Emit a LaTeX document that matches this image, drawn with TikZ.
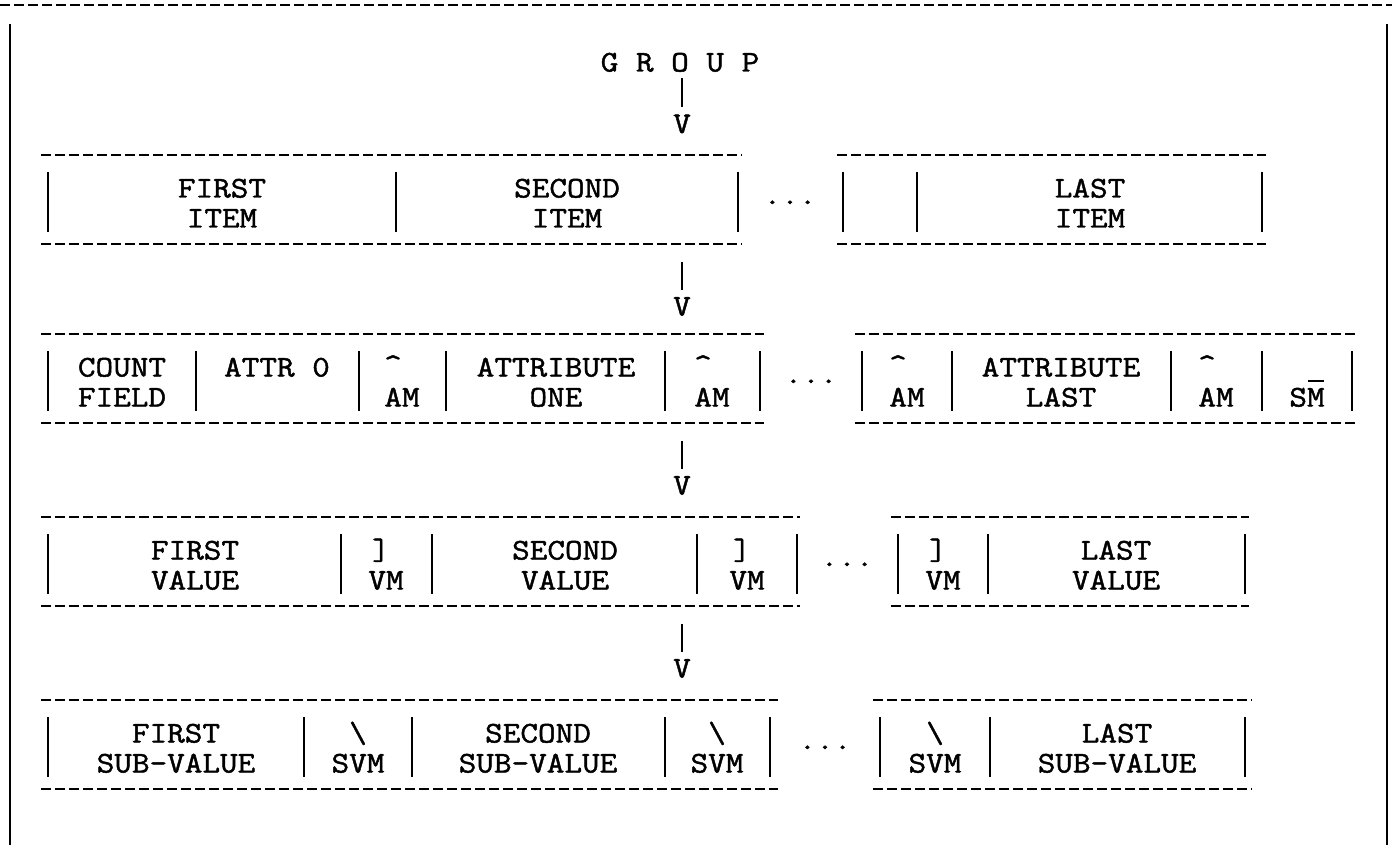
\documentclass[tikz,border=0pt]{standalone}
\usepackage{fontspec}
\newfontfamily\typew[FakeStretch=1.14,FakeBold=1.5]{Latin Modern Mono}
\begin{document}
\begin{tikzpicture}[x=1pt,y=-1pt,
  txt/.style={font=\typew\fontsize{30}{30}\selectfont, inner sep=0pt, anchor=base},
  dashrule/.style={line width=1.6pt, dash pattern=on 10pt off 4pt},
  bar/.style={line width=1.8pt},
  link/.style={line width=1.8pt}]
\useasboundingbox (0,0) rectangle (1392,845);
% frame
\draw[dashrule] (0,5) -- (1392,5);
\draw[bar] (10,24) -- (10,845);
\draw[bar] (1387,24) -- (1387,845);
% group
\node[txt] (group) at (680,71.5) {G R O U P};
\node[txt] (v1) at (682,133) {V};
\coordinate (a1) at (682,78); \coordinate (b1) at (682,107);
\draw[link] (a1) -- (b1);
% row 1
\foreach \y in {155,244} {\draw[dashrule] (41,\y) -- (742,\y); \draw[dashrule] (837,\y) -- (1266,\y);}
\foreach \x in {48,396,738,843,917,1262} \draw[bar] (\x,172) -- (\x,232);
\node[txt] (r1a) at (222,197.5) {FIRST};
\node[txt] (r1b) at (222,227.5) {ITEM};
\node[txt] (r1c) at (567,197.5) {SECOND};
\node[txt] (r1d) at (567,227.5) {ITEM};
\node[txt] (r1e) at (790,204) {...};
\node[txt] (r1f) at (1090,197.5) {LAST};
\node[txt] (r1g) at (1090,227.5) {ITEM};
\node[txt] (v2) at (682,315.5) {V};
\coordinate (a2) at (682,262); \coordinate (b2) at (682,290);
\draw[link] (a2) -- (b2);
% row 2
\foreach \y in {334,423} {\draw[dashrule] (41,\y) -- (764,\y); \draw[dashrule] (855,\y) -- (1358,\y);}
\foreach \x in {48,196,359,446,665,760,862,952,1171,1262,1352} \draw[bar] (\x,351) -- (\x,411);
\node[txt] (r2a) at (122,376.5) {COUNT};
\node[txt] (r2b) at (122,406.5) {FIELD};
\node[txt] (r2c) at (277,376.5) {ATTR 0};
\node[txt] (r2d) at (393,374) {\textasciicircum};
\node[txt] (r2e) at (402,406.5) {AM};
\node[txt] (r2f) at (556,376.5) {ATTRIBUTE};
\node[txt] (r2g) at (556,406.5) {ONE};
\node[txt] (r2h) at (703,374) {\textasciicircum};
\node[txt] (r2i) at (712,406.5) {AM};
\node[txt] (r2j) at (811,383) {...};
\node[txt] (r2k) at (898,374) {\textasciicircum};
\node[txt] (r2l) at (907,406.5) {AM};
\node[txt] (r2m) at (1061,376.5) {ATTRIBUTE};
\node[txt] (r2n) at (1061,406.5) {LAST};
\node[txt] (r2o) at (1207,374) {\textasciicircum};
\node[txt] (r2p) at (1216,406.5) {AM};
\node[txt] (r2q) at (1307,406.5) {S\rlap{\hspace{1pt}\rule[25pt]{16pt}{1.6pt}}M};
\node[txt] (v3) at (682,494.5) {V};
\coordinate (a3) at (682,441); \coordinate (b3) at (682,469);
\draw[link] (a3) -- (b3);
% row 3
\foreach \y in {517,606} {\draw[dashrule] (41,\y) -- (800,\y); \draw[dashrule] (891,\y) -- (1249,\y);}
\foreach \x in {48,341,432,697,797,898,988,1245} \draw[bar] (\x,534) -- (\x,594);
\node[txt] (r3a) at (195,559.5) {FIRST};
\node[txt] (r3b) at (195,589.5) {VALUE};
\node[txt] (r3c) at (381,559.5) {]};
\node[txt] (r3d) at (386,589.5) {VM};
\node[txt] (r3e) at (565,559.5) {SECOND};
\node[txt] (r3f) at (565,589.5) {VALUE};
\node[txt] (r3g) at (742,559.5) {]};
\node[txt] (r3h) at (747,589.5) {VM};
\node[txt] (r3i) at (847,566) {...};
\node[txt] (r3j) at (938,559.5) {]};
\node[txt] (r3k) at (943,589.5) {VM};
\node[txt] (r3l) at (1116,559.5) {LAST};
\node[txt] (r3m) at (1116,589.5) {VALUE};
\node[txt] (v4) at (682,677.5) {V};
\coordinate (a4) at (682,624); \coordinate (b4) at (682,652);
\draw[link] (a4) -- (b4);
% row 4
\foreach \y in {700,789} {\draw[dashrule] (41,\y) -- (778,\y); \draw[dashrule] (873,\y) -- (1252,\y);}
\foreach \x in {48,304,412,665,770,880,990,1245} \draw[bar] (\x,717) -- (\x,777);
\node[txt] (r4a) at (176,742.5) {FIRST};
\node[txt] (r4b) at (176,772.5) {SUB-VALUE};
\node[txt] (r4c) at (358,742.5) {\textbackslash};
\node[txt] (r4d) at (358,772.5) {SVM};
\node[txt] (r4e) at (538,742.5) {SECOND};
\node[txt] (r4f) at (538,772.5) {SUB-VALUE};
\node[txt] (r4g) at (717,742.5) {\textbackslash};
\node[txt] (r4h) at (717,772.5) {SVM};
\node[txt] (r4i) at (825,749) {...};
\node[txt] (r4j) at (935,742.5) {\textbackslash};
\node[txt] (r4k) at (935,772.5) {SVM};
\node[txt] (r4l) at (1117,742.5) {LAST};
\node[txt] (r4m) at (1117,772.5) {SUB-VALUE};
\end{tikzpicture}
\end{document}
